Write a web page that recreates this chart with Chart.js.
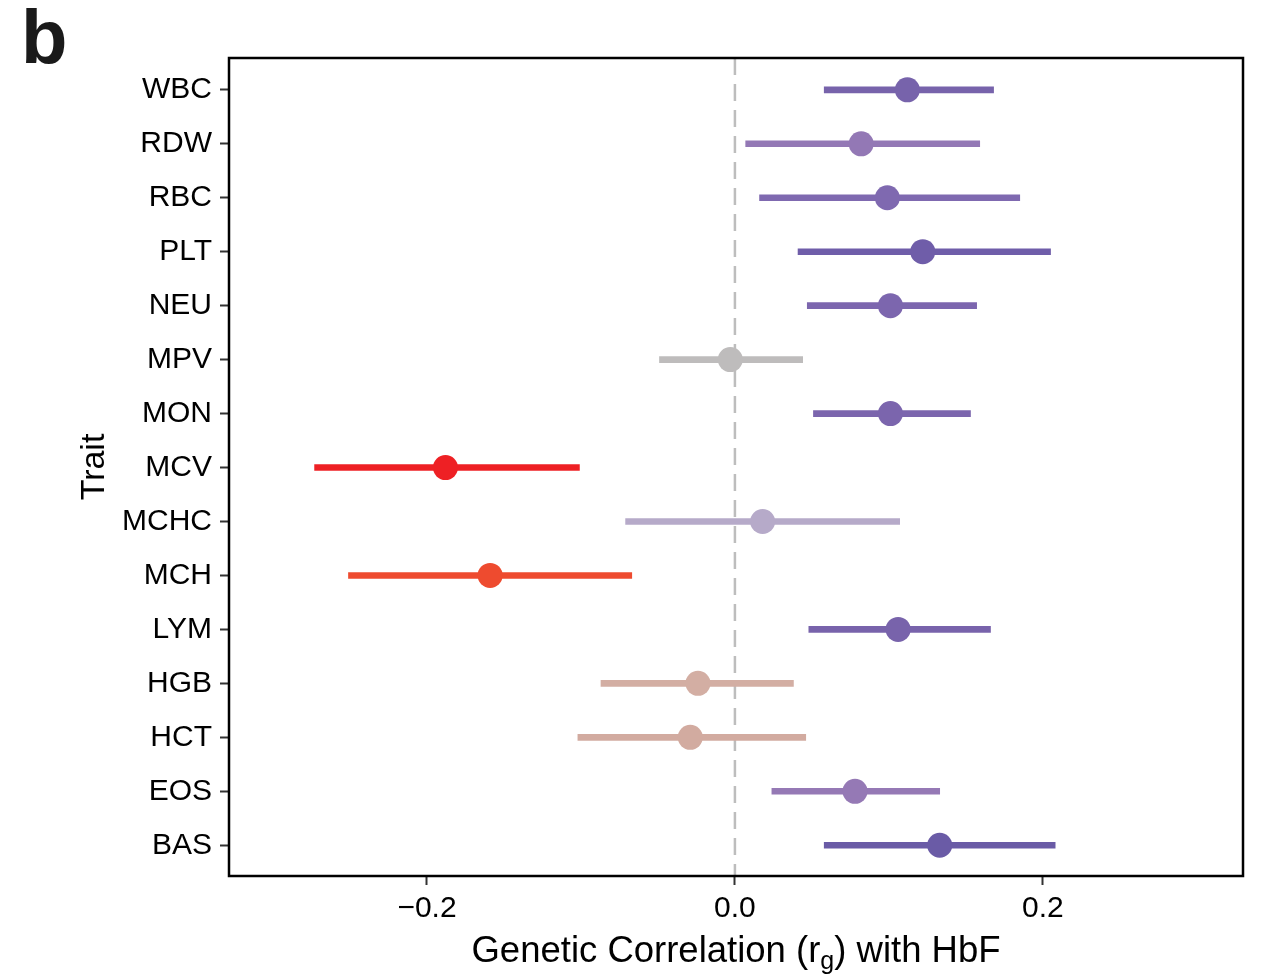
<!DOCTYPE html>
<html>
<head>
<meta charset="utf-8">
<script src="https://cdn.jsdelivr.net/npm/chart.js@4"></script>
<style>
  body { margin: 0; background: #fff; }
  canvas { display: block; }
</style>
</head>
<body>
<canvas id="myChart" width="1261" height="977"></canvas>
<script>
// data
const traits = ['WBC', 'RDW', 'RBC', 'PLT', 'NEU', 'MPV', 'MON', 'MCV', 'MCHC', 'MCH', 'LYM', 'HGB', 'HCT', 'EOS', 'BAS'];
const rg    = [0.112, 0.082, 0.099, 0.122, 0.101, -0.003, 0.101, -0.188, 0.018, -0.159, 0.106, -0.024, -0.029, 0.078, 0.133];
const lower = [0.058, 0.007, 0.016, 0.041, 0.047, -0.049, 0.051, -0.273, -0.071, -0.251, 0.048, -0.087, -0.102, 0.024, 0.058];
const upper = [0.168, 0.159, 0.185, 0.205, 0.157, 0.044, 0.153, -0.101, 0.107, -0.067, 0.166, 0.038, 0.046, 0.133, 0.208];
const colors = ['#7763ab', '#9378b5', '#7f69b0', '#6f5da9', '#7c66ae', '#bebcbc', '#7b65ad', '#ee2024',
                '#b6aac9', '#ee4b2f', '#7863ab', '#d3aea3', '#d2aba0', '#9579b5', '#6a5ba6'];
const xTicks = [-0.2, 0.0, 0.2];

const FONT = '"Liberation Sans", Arial, Helvetica, sans-serif';

const decor = {
    id: 'decor',
    beforeDatasetsDraw(chart) {
        const ctx = chart.ctx;
        const area = chart.chartArea;
        const x0 = chart.scales.x.getPixelForValue(0);
        ctx.save();
        ctx.strokeStyle = '#bdbdbd';
        ctx.lineWidth = 2.5;
        ctx.setLineDash([17, 9]);
        ctx.beginPath();
        ctx.moveTo(x0, area.top);
        ctx.lineTo(x0, area.bottom);
        ctx.stroke();
        ctx.restore();
    },
    afterDraw(chart) {
        const ctx = chart.ctx;
        const area = chart.chartArea;
        ctx.save();
        // panel border
        ctx.strokeStyle = '#000';
        ctx.lineWidth = 2.5;
        ctx.strokeRect(area.left, area.top, area.right - area.left, area.bottom - area.top);

        ctx.fillStyle = '#000';
        // x title with subscript
        const cx = (area.left + area.right) / 2;
        const base = 962;
        const p1 = 'Genetic Correlation (r';
        const p2 = 'g';
        const p3 = ') with HbF';
        ctx.font = '36.5px ' + FONT;
        const w1 = ctx.measureText(p1).width;
        const w3 = ctx.measureText(p3).width;
        ctx.font = '25px ' + FONT;
        const w2 = ctx.measureText(p2).width;
        let x = cx - (w1 + w2 + w3) / 2;
        ctx.textBaseline = 'alphabetic';
        ctx.textAlign = 'left';
        ctx.font = '36.5px ' + FONT;
        ctx.fillText(p1, x, base);
        x += w1;
        ctx.font = '25px ' + FONT;
        ctx.fillText(p2, x, base + 7);
        x += w2;
        ctx.font = '36.5px ' + FONT;
        ctx.fillText(p3, x, base);

        // y title
        ctx.save();
        ctx.translate(104, (area.top + area.bottom) / 2);
        ctx.rotate(-Math.PI / 2);
        ctx.textAlign = 'center';
        ctx.font = '34px ' + FONT;
        ctx.fillText('Trait', 0, 0);
        ctx.restore();

        // panel letter
        ctx.fillStyle = '#1a1a1a';
        ctx.font = 'bold 76px ' + FONT;
        ctx.textAlign = 'left';
        ctx.fillText('b', 21, 63);
        ctx.restore();
    }
};

const ctx1 = document.getElementById('myChart').getContext('2d');
new Chart(ctx1, {
    type: 'bar',
    data: {
        datasets: [{
            type: 'bar',
            data: traits.map((t, i) => ({x: [lower[i], upper[i]], y: i})),
            backgroundColor: colors,
            borderWidth: 0,
            barThickness: 6,
            order: 2
        }, {
            type: 'scatter',
            data: traits.map((t, i) => ({x: rg[i], y: i})),
            backgroundColor: colors,
            borderWidth: 0,
            pointRadius: 12.5,
            pointHoverRadius: 12.5,
            showLine: false,
            order: 1
        }]
    },
    options: {
        responsive: false,
        animation: false,
        indexAxis: 'y',
        layout: { padding: { left: 0, top: 58, right: 18, bottom: 0 } },
        plugins: {
            legend: { display: false },
            tooltip: { enabled: false }
        },
        scales: {
            x: {
                type: 'linear',
                min: -0.3286,
                max: 0.33,
                offset: false,
                afterBuildTicks: scale => { scale.ticks = xTicks.map(v => ({value: v})); },
                afterFit: scale => { scale.height = 101; },
                border: { display: false },
                grid: { offset: false, drawOnChartArea: false, drawTicks: true, tickLength: 9, tickColor: '#333', tickWidth: 2 },
                ticks: {
                    padding: 6,
                    color: '#000',
                    font: { family: FONT, size: 30 },
                    callback: v => v.toFixed(1).replace('-', '\u2212')
                }
            },
            y: {
                type: 'linear',
                reverse: true,
                min: -0.59,
                max: 14.57,
                offset: false,
                afterBuildTicks: scale => { scale.ticks = traits.map((t, i) => ({value: i})); },
                afterFit: scale => { scale.width = 229; },
                border: { display: false },
                grid: { offset: false, drawOnChartArea: false, drawTicks: true, tickLength: 9, tickColor: '#333', tickWidth: 2 },
                ticks: {
                    padding: 8,
                    color: '#000',
                    autoSkip: false,
                    font: { family: FONT, size: 30 },
                    callback: v => traits[v]
                }
            }
        }
    },
    plugins: [decor]
});
</script>
</body>
</html>
